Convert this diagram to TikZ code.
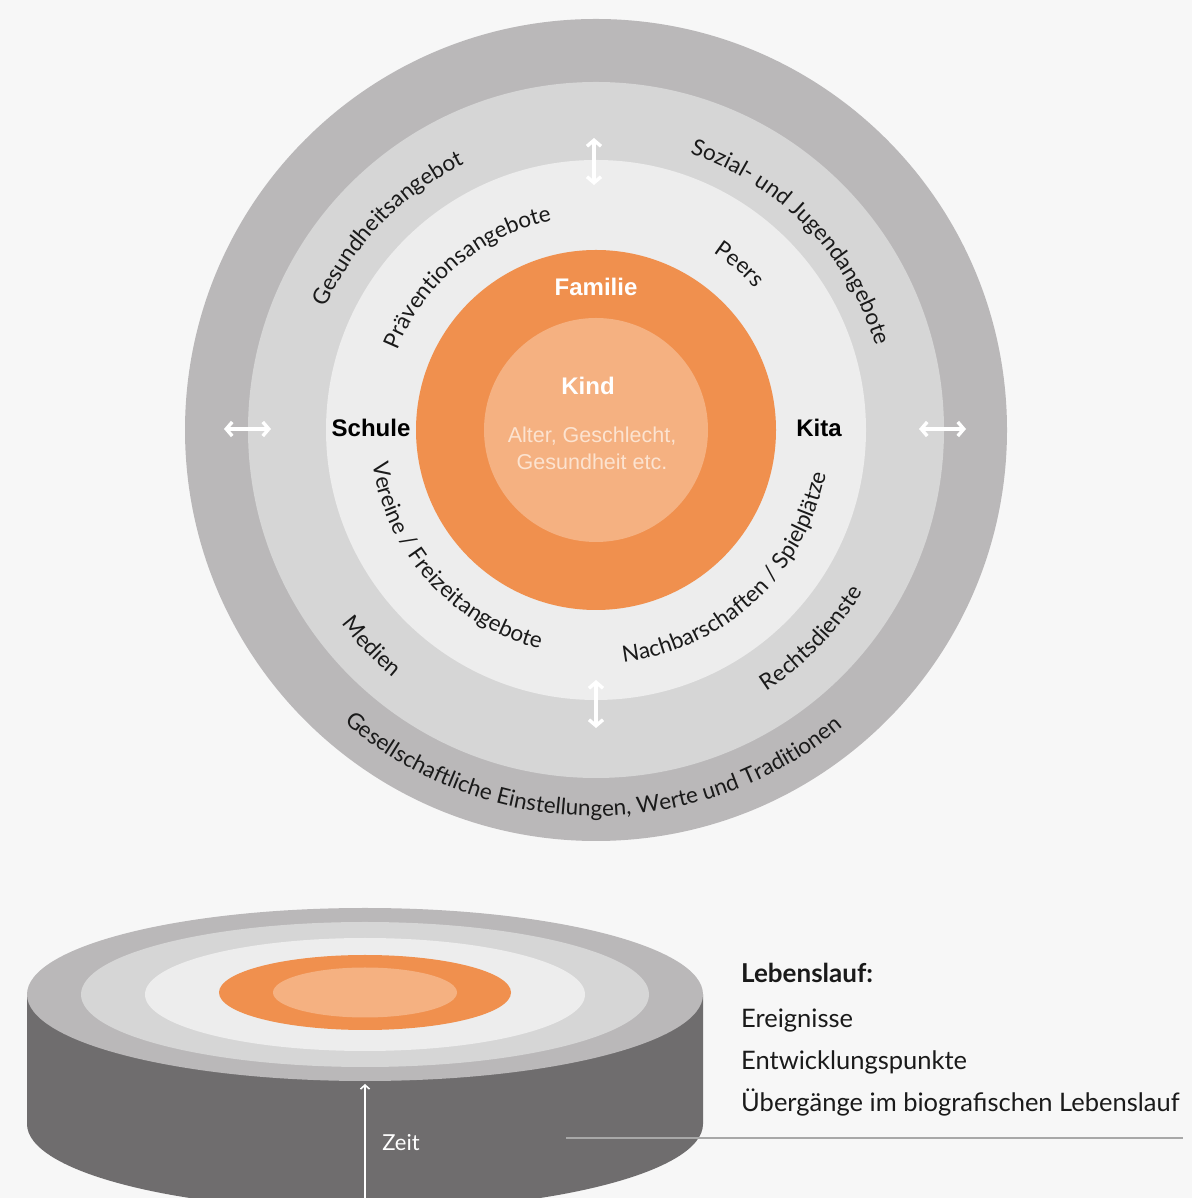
\documentclass[tikz,border=0pt]{standalone}
\usepackage{fontspec}
\setmainfont{Lato}
\newfontfamily\latofont{Lato}
\newfontfamily\arialfont{Liberation Sans}
\usetikzlibrary{decorations.text, arrows.meta}

\definecolor{bgc}{HTML}{F7F7F7}
\definecolor{ringA}{HTML}{BAB8B9}
\definecolor{ringB}{HTML}{D6D6D6}
\definecolor{ringC}{HTML}{EDEDED}
\definecolor{famc}{HTML}{F0904E}
\definecolor{kindc}{HTML}{F5B181}
\definecolor{sidec}{HTML}{6F6D6E}
\definecolor{txtc}{HTML}{1A1A1A}
\definecolor{softc}{HTML}{FCE3D0}
\definecolor{linec}{HTML}{A8A8A8}

\newcommand\curvefont{\latofont\fontsize{22.5}{26}\selectfont\color{txtc}}
% clockwise text (top half, letters pointing outward): centre angle, radius, half span, text
\newcommand\cwtext[4]{%
  \path[decorate,decoration={text along path,text align=center,text={|\curvefont|#4}}]
    ([shift={(C)}]#1+#3:#2) arc[start angle=#1+#3,end angle=#1-#3,radius=#2];}
% counter-clockwise text (bottom half, letters pointing inward)
\newcommand\ccwtext[4]{%
  \path[decorate,decoration={text along path,text align=center,text={|\curvefont|#4}}]
    ([shift={(C)}]#1-#3:#2) arc[start angle=#1-#3,end angle=#1+#3,radius=#2];}

\tikzset{
  dblarrow/.style={white, line width=3.4pt, line cap=round,
    {Straight Barb[length=6pt,width=14pt]}-{Straight Barb[length=6pt,width=14pt]}},
  boldlabel/.style={font=\arialfont\bfseries\fontsize{24}{28}\selectfont},
  softlabel/.style={font=\arialfont\fontsize{21.5}{27}\selectfont, text=softc, align=center},
  legend/.style={anchor=base west, inner sep=0pt, text=txtc, font=\latofont\fontsize{25.5}{30}\selectfont},
}

\begin{document}
\begin{tikzpicture}[x=1pt,y=1pt]
\useasboundingbox (0,0) rectangle (1192,1198);
\fill[bgc] (0,0) rectangle (1192,1198);

% ---------- concentric circles ----------
\coordinate (C) at (596,768);
\fill[ringA] (C) circle[radius=411];
\fill[ringB] (C) circle[radius=348];
\fill[ringC] (C) circle[radius=270];
\fill[famc]  (C) circle[radius=180];
\fill[kindc] (C) circle[radius=112];

% ---------- centre labels ----------
\node[boldlabel, text=white] (familie) at (596,911) {Familie};
\node[boldlabel, text=white] (kind) at (588,812) {Kind};
\node[softlabel] (alter) at (592,750) {Alter, Geschlecht,\\Gesundheit etc.};
\node[boldlabel, text=black] (schule) at (371,770) {Schule};
\node[boldlabel, text=black] (kita) at (819,770) {Kita};

% ---------- curved labels ----------
\cwtext{136}{297}{70}{Gesundheitsangebot}
\cwtext{44}{292}{70}{Sozial- und Jugendangebote}
\cwtext{130}{214}{70}{Präventionsangebote}
\cwtext{49}{213}{40}{Peers}
\ccwtext{222}{226}{75}{Vereine / Freizeitangebote}
\ccwtext{313}{234}{75}{Nachbarschaften / Spielplätze}
\ccwtext{224}{320}{40}{Medien}
\ccwtext{316}{312}{50}{Rechtsdienste}
\ccwtext{269.5}{386}{75}{Gesellschaftliche Einstellungen, Werte und Traditionen}

% ---------- white double arrows ----------
\coordinate (aLa) at (224,769); \coordinate (aLb) at (271,769);
\coordinate (aRa) at (919,769); \coordinate (aRb) at (966,769);
\coordinate (aTa) at (594,1060); \coordinate (aTb) at (594,1013);
\coordinate (aBa) at (596,518);  \coordinate (aBb) at (596,470);
\draw[dblarrow] (aLa) -- (aLb);
\draw[dblarrow] (aRa) -- (aRb);
\draw[dblarrow] (aTa) -- (aTb);
\draw[dblarrow] (aBa) -- (aBb);

% ---------- disk (life course) ----------
\coordinate (D) at (365,203.5);
\fill[sidec] (27,203.5) -- (27,74) arc[start angle=180,end angle=360,x radius=338,y radius=86.5] -- (703,203.5) -- cycle;
\fill[ringA] (D) ellipse[x radius=338,y radius=86.5];
\fill[ringB] (D) ellipse[x radius=284,y radius=72.5];
\fill[ringC] (D) ellipse[x radius=220,y radius=56.5];
\fill[famc]  ([yshift=2pt]D) ellipse[x radius=146,y radius=37.5];
\fill[kindc] ([yshift=2pt]D) ellipse[x radius=92,y radius=25];

\coordinate (zA) at (365,0);
\coordinate (zB) at (365,114);
\draw[white, line width=1.6pt, -{Straight Barb[length=4pt,width=9pt]}] (zA) -- (zB);
\node[font=\latofont\fontsize{22}{26}\selectfont, text=white] (zeit) at (401,55) {Zeit};

\coordinate (lA) at (566,60);
\coordinate (lB) at (1183,60);
\draw[linec, line width=1.8pt] (lA) -- (lB);

% ---------- legend ----------
\node[legend, font=\latofont\bfseries\fontsize{26}{30}\selectfont] (leb) at (741,215) {Lebenslauf:};
\node[legend] (ereig) at (741,170) {Ereignisse};
\node[legend] (entw) at (741,128) {Entwicklungspunkte};
\node[legend] (ueber) at (741,86) {Übergänge im biografischen Lebenslauf};
\end{tikzpicture}
\end{document}
